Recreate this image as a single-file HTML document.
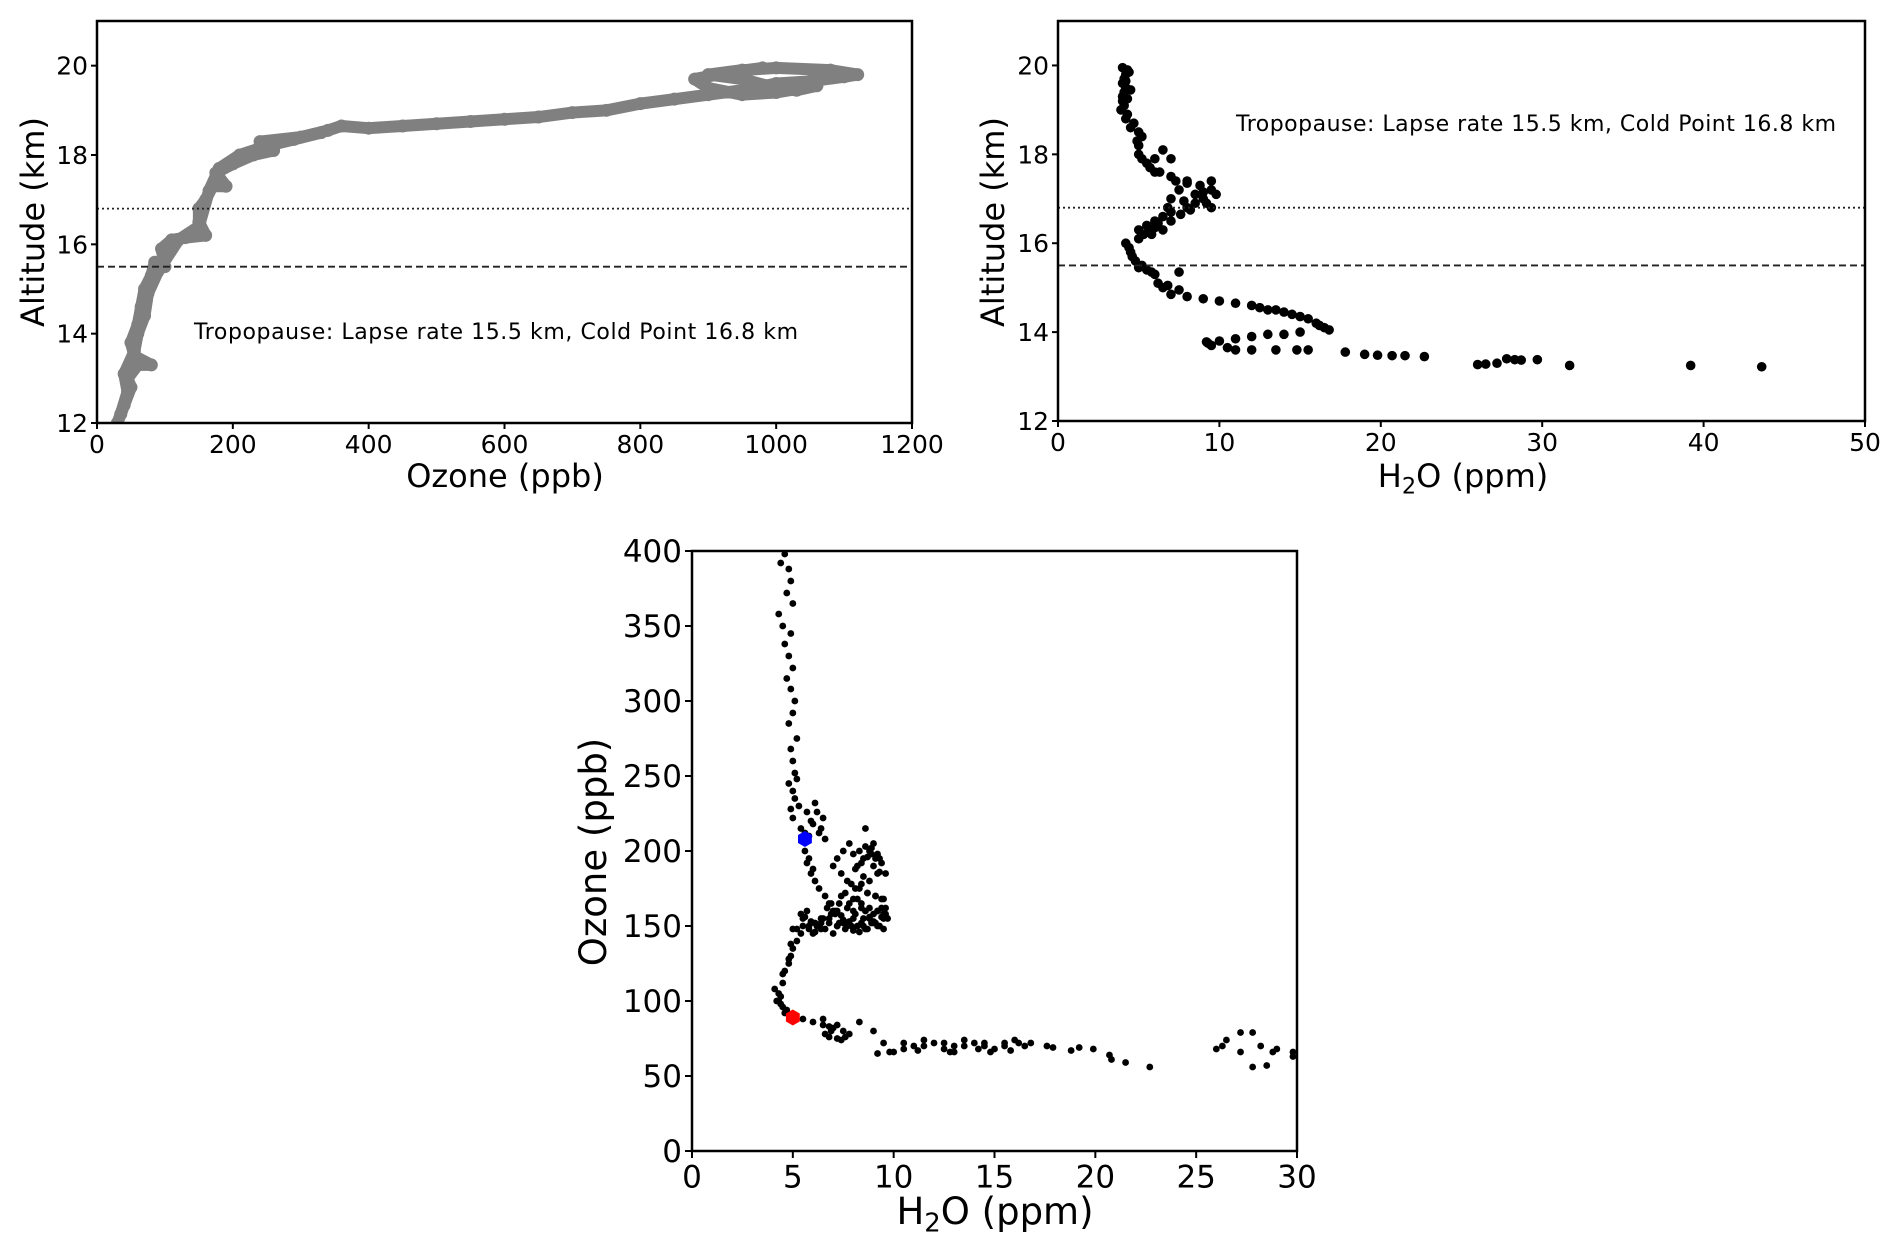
<!DOCTYPE html>
<html><head><meta charset="utf-8"><style>
body{margin:0;background:#fff;}
svg{display:block;font-family:"DejaVu Sans","Liberation Sans",sans-serif;}
</style></head><body>
<svg id="fig" width="1892" height="1247" viewBox="0 0 1892 1247">
<g id="p1"></g>
<g id="p2"></g>
<g id="p3"></g>
</svg>
<script>
// Panel 1: ozone (ppb) vs altitude (km)
const ozoneProfileOzone=[30,40,50,45,60,80,55,50,60,65,70,80,85,100,95,110,130,160,150,150,160,170,190,175,200,230,260,240,300,340,360,400,450,500,550,600,650,700,750,800,850,900,950,1000,1050,1100,1120,1080,1000,950,900,950,1000,1030,1060,1000,950,900,880,930,980];
const ozoneProfileAlt=[12,12.4,12.8,13,13.3,13.3,13.5,13.8,14.2,14.6,15,15.3,15.6,15.5,15.9,16.1,16.15,16.2,16.5,16.8,17,17.3,17.3,17.6,17.8,18,18.1,18.3,18.4,18.55,18.65,18.6,18.65,18.7,18.75,18.8,18.85,18.95,19,19.15,19.25,19.35,19.45,19.6,19.65,19.75,19.8,19.9,19.95,19.9,19.8,19.7,19.5,19.45,19.55,19.4,19.35,19.5,19.7,19.85,19.95];
const ozoneProfileOzone2=[35,45,40,55,60,70,75,90,120,150,165,180,210,250,290,330];
const ozoneProfileAlt2=[12.2,12.7,13.1,13.6,14,14.4,14.9,15.4,16.1,16.4,17.2,17.7,18.0,18.2,18.35,18.5];
const p1XTicks=[0,200,400,600,800,1000,1200];
const p1YTicks=[12,14,16,18,20];
// Panel 2: H2O (ppm) vs altitude
const h2oProfileH2O=[4,4.2,4,4.1,4,3.9,4.2,4.5,5,5,5,5.5,6,6.5,7,6,7,8,9.5,9.5,8.5,7.5,7,8.5,9.5,8,7,6.5,6,5.5,5,6.5,7,5,4.2,4.5,4.8,5,5.5,6,7.5,6.2,6.5,7,7.5,8,9,10,11,12,13,14,15,15.5,16,16.5,16.8,15,14,13,12,11,10,9.2,9.5,10.5,11,12,13.5,14.8,15.5,17.8,19,19.8,20.7,21.5,22.7,26,26.5,27.2,27.8,28.3,28.7,29.7,31.7,39.2,43.6,
4.3,4.1,4.2,4.0,4.1,4.3,4.7,5.2,4.9,5.2,5.7,6.3,7.3,8.8,9.8,9,7.8,8.2,9.2,6.8,6.2,5.8,5.3,4.4,4.6,5.2,5.8,6.8,12.5,13.5,14.5,16.2,9.3,4.4,4.2,4.5,4.3,8.0,9.0,7.6,6.0,5.6];
const h2oProfileAlt=[19.95,19.8,19.6,19.4,19.2,19,18.8,18.6,18.5,18.2,18,17.8,17.9,18.1,17.9,17.6,17.5,17.4,17.4,17.2,17.1,17.2,17,16.9,16.8,16.8,16.7,16.6,16.5,16.4,16.3,16.3,16.5,16.1,16,15.8,15.6,15.45,15.4,15.3,15.35,15.1,15,14.85,14.95,14.8,14.75,14.7,14.65,14.6,14.5,14.45,14.35,14.3,14.2,14.1,14.05,14,13.95,13.95,13.9,13.85,13.8,13.78,13.7,13.65,13.6,13.6,13.6,13.6,13.6,13.55,13.5,13.48,13.47,13.47,13.45,13.27,13.28,13.3,13.4,13.38,13.37,13.38,13.25,13.25,13.22,
19.9,19.7,19.5,19.3,19.1,18.9,18.7,18.4,18.3,17.9,17.7,17.6,17.4,17.3,17.1,17,16.95,16.75,16.9,16.8,16.45,16.2,16.2,15.9,15.7,15.5,15.35,15.05,14.55,14.5,14.4,14.15,13.75,19.85,19.65,19.45,19.25,17.35,17.15,16.65,16.35,16.25];
const p2XTicks=[0,10,20,30,40,50];
const p2YTicks=[12,14,16,18,20];
const lapseRateKm=15.5;
const coldPointKm=16.8;
// Panel 3: H2O vs ozone scatter (groups of 10 aligned)
const scatterH2O=[
4.6,4.4,4.8,4.9,4.7,5.0,4.3,4.5,4.9,4.6,
4.8,5.0,4.7,4.9,5.1,5.0,4.8,5.2,4.9,5.0,
5.1,4.8,5.0,5.2,5.1,4.9,5.3,5.0,5.4,5.6,
5.8,6.0,6.2,6.4,6.6,5.9,6.3,5.7,6.1,6.5,
5.4,5.2,5.0,4.9,4.8,4.6,4.5,4.3,4.2,4.1,
4.3,4.6,4.5,4.4,4.7,4.8,4.9,5.0,4.5,4.4,
5.5,6.0,6.5,7.0,7.5,7.8,6.8,7.2,8.3,9.0,
9.5,10.0,10.5,11.0,11.5,12.0,12.5,13.0,13.5,14.0,
14.5,15.0,15.5,16.0,16.5,16.8,11.2,12.8,14.2,17.6,
17.9,18.8,19.2,19.9,20.7,20.8,21.5,22.7,26.0,26.3,
26.5,27.2,27.2,27.8,27.8,28.2,28.5,28.8,29.0,29.8,
29.8,10.5,11.5,12.5,13.5,14.5,15.5,16.2,13.0,14.8,
15.8,9.2,9.8,7.2,7.6,6.6,6.9,7.4,6.5,6.8,
7.0,7.2,7.5,7.8,8.0,8.2,8.5,8.8,9.0,9.2,
9.4,9.6,8.6,8.9,9.3,7.4,7.7,8.1,8.4,8.7,
9.1,9.5,6.8,7.1,7.4,7.8,8.2,8.6,9.0,9.4,
9.7,6.5,6.9,7.3,7.7,8.0,8.4,8.8,9.2,9.6,
6.2,6.6,7.0,7.5,8.0,8.5,9.0,9.5,5.8,6.1,
6.4,6.8,7.2,5.4,5.7,6.0,6.3,5.2,5.5,5.9,
5.6,5.7,5.9,6.1,6.3,6.6,6.9,7.2,5.8,6.0,
8.3,8.6,8.9,9.1,8.4,8.7,9.0,9.3,8.1,8.5,
8.8,9.2,7.9,8.3,8.7,9.1,9.4,7.6,8.0,8.4,
8.8,9.2,9.5,7.3,7.7,8.1,8.5,8.9,9.3,7.0,
7.4,7.8,8.2,8.6,9.0,9.4,6.7,7.1,7.5,7.9,
8.3,8.7,9.1,9.5,6.4,6.8,7.2,7.6,8.0,8.4,
8.8,9.2,9.6,5.5,5.8,6.1,6.4,5.6,5.9,6.2];
const scatterOzone=[
398,392,388,380,372,365,358,350,345,338,
330,322,315,308,300,292,285,275,268,260,
252,245,240,248,235,228,230,222,215,212,
210,218,226,215,208,220,212,226,232,222,
145,140,135,130,125,120,112,105,100,108,
100,92,96,98,94,128,138,148,118,103,
88,86,84,82,80,78,76,84,86,80,
72,66,68,70,74,72,68,70,74,72,
70,68,72,74,70,72,67,66,68,70,
69,67,69,68,64,61,59,56,68,70,
74,79,66,79,56,70,57,66,68,63,
66,72,70,72,70,72,70,72,66,66,
67,65,66,75,76,78,80,74,88,83,
190,195,200,205,198,190,195,200,205,198,
192,185,215,202,195,185,180,175,178,172,
170,168,165,160,170,165,168,160,158,162,
155,155,158,152,150,160,162,155,150,158,
150,148,145,152,155,150,152,148,150,152,
148,155,150,158,160,145,150,148,155,152,
200,192,185,180,175,170,165,160,195,188,
200,203,198,195,192,196,190,186,188,183,
180,185,178,175,172,170,168,172,168,165,
162,160,158,165,162,158,155,152,150,160,
157,153,150,148,153,156,162,158,154,150,
146,148,152,155,155,152,150,148,147,152,
156,160,162,150,148,146,152,156,153,150];
const p3XTicks=[0,5,10,15,20,25,30];
const p3YTicks=[0,50,100,150,200,250,300,350,400];
const markerBlue=[5.6,208];
const markerRed=[5.0,89];

const NS='http://www.w3.org/2000/svg';
function mk(parent,tag,attrs){const e=document.createElementNS(NS,tag);for(const k in attrs)e.setAttribute(k,attrs[k]);parent.appendChild(e);return e;}
function lin(d0,d1,r0,r1){return v=>r0+(v-d0)*(r1-r0)/(d1-d0);}

function axes(g,L,R,T,B,sx,sy,xt,yt,fs,tl){
  const frame=mk(g,'rect',{x:L,y:T,width:R-L,height:B-T,fill:'none',stroke:'#000','stroke-width':2.5});
  
  
  xt.forEach(v=>{const x=sx(v);
    const t=mk(g,'line',{x1:x,x2:x,y1:B,y2:B+tl,stroke:'#000','stroke-width':2});
    
    
    const s=mk(g,'text',{x:x,y:B+tl+fs*0.95,'font-size':fs,'text-anchor':'middle'});s.textContent=v;
    
    });
  yt.forEach(v=>{const y=sy(v);
    const t=mk(g,'line',{x1:L-tl,x2:L,y1:y,y2:y,stroke:'#000','stroke-width':2});
    
    
    const s=mk(g,'text',{x:L-tl-3,y:y+fs*0.36,'font-size':fs,'text-anchor':'end'});s.textContent=v;
    
    });
}
function label(g,x,y,fs,txt,rot,name,sub){
  const t=mk(g,'text',{x:x,y:y,'font-size':fs,'text-anchor':'middle'});
  if(rot)t.setAttribute('transform','rotate(-90 '+x+' '+y+')');
  if(sub){t.appendChild(document.createTextNode('H'));const ts=mk(t,'tspan',{'font-size':fs*0.7,dy:fs*0.2});ts.textContent='2';const t2=mk(t,'tspan',{dy:-fs*0.2});t2.textContent='O (ppm)';}
  else t.textContent=txt;
  
  
}
function hline(g,L,R,y,dash,name){const l=mk(g,'line',{x1:L,x2:R,y1:y,y2:y,stroke:'#222','stroke-width':1.8,'stroke-dasharray':dash});
  
  }

// Panel 1
(function(){const g=document.getElementById('p1');const L=97,R=912,T=21,B=423;
  const sx=lin(0,1200,L,R),sy=lin(12,21,B,T);
  mk(mk(g,'clipPath',{id:'c1'}),'rect',{x:L,y:T,width:R-L,height:B-T});
  const cg=mk(g,'g',{'clip-path':'url(#c1)'});
  [[ozoneProfileOzone,ozoneProfileAlt],[ozoneProfileOzone2,ozoneProfileAlt2]].forEach(([xs,ys])=>{
    const pts=xs.map((v,i)=>sx(v)+','+sy(ys[i])).join(' ');
    const pl=mk(cg,'polyline',{points:pts,fill:'none',stroke:'#808080','stroke-width':12,'stroke-linejoin':'round','stroke-linecap':'round'});
    
    
    xs.forEach((v,i)=>{const c=mk(cg,'circle',{cx:sx(v),cy:sy(ys[i]),r:6.5,fill:'#808080'});
      
      });
  });
  hline(g,L,R,sy(coldPointKm),'2 3','cold-point-line');
  hline(g,L,R,sy(lapseRateKm),'7 4','lapse-rate-line');
  axes(g,L,R,T,B,sx,sy,p1XTicks,p1YTicks,25,6);
  const a=mk(g,'text',{x:194,y:339,'font-size':22,textLength:604});a.textContent='Tropopause: Lapse rate 15.5 km, Cold Point 16.8 km';
  
  
  label(g,505,487,32,'Ozone (ppb)',false,'x-axis-title');
  label(g,44,222,32,'Altitude (km)',true,'y-axis-title');
})();
// Panel 2
(function(){const g=document.getElementById('p2');const L=1058,R=1865,T=21,B=421;
  const sx=lin(0,50,L,R),sy=lin(12,21,B,T);
  h2oProfileH2O.forEach((v,i)=>{const c=mk(g,'circle',{cx:sx(v),cy:sy(h2oProfileAlt[i]),r:4.8,fill:'#000'});
    
    });
  hline(g,L,R,sy(coldPointKm),'2 3','cold-point-line');
  hline(g,L,R,sy(lapseRateKm),'7 4','lapse-rate-line');
  axes(g,L,R,T,B,sx,sy,p2XTicks,p2YTicks,25,6);
  const a=mk(g,'text',{x:1236,y:131,'font-size':22,textLength:600});a.textContent='Tropopause: Lapse rate 15.5 km, Cold Point 16.8 km';
  
  
  label(g,1463,487,32,'',false,'x-axis-title',true);
  label(g,1004,222,32,'Altitude (km)',true,'y-axis-title');
})();
// Panel 3
(function(){const g=document.getElementById('p3');const L=692,R=1297,T=551,B=1151;
  const sx=lin(0,30,L,R),sy=lin(0,400,B,T);
  scatterH2O.forEach((v,i)=>{const c=mk(g,'circle',{cx:sx(v),cy:sy(scatterOzone[i]),r:3.4,fill:'#000'});
    
    });
  function hex(p,col,name){const cx=sx(p[0]),cy=sy(p[1]),r=8;let s='';for(let k=0;k<6;k++){const a=Math.PI/6+k*Math.PI/3;s+=(cx+r*Math.cos(a))+','+(cy+r*Math.sin(a))+' ';}
    const h=mk(g,'polygon',{points:s,fill:col});
    
    }
  hex(markerBlue,'#0000ff','cold-point-marker');
  hex(markerRed,'#ff0000','lapse-rate-marker');
  axes(g,L,R,T,B,sx,sy,p3XTicks,p3YTicks,31,7);
  label(g,995,1224,37,'',false,'x-axis-title',true);
  label(g,606,852,37,'Ozone (ppb)',true,'y-axis-title');
})();
</script>
</body></html>
